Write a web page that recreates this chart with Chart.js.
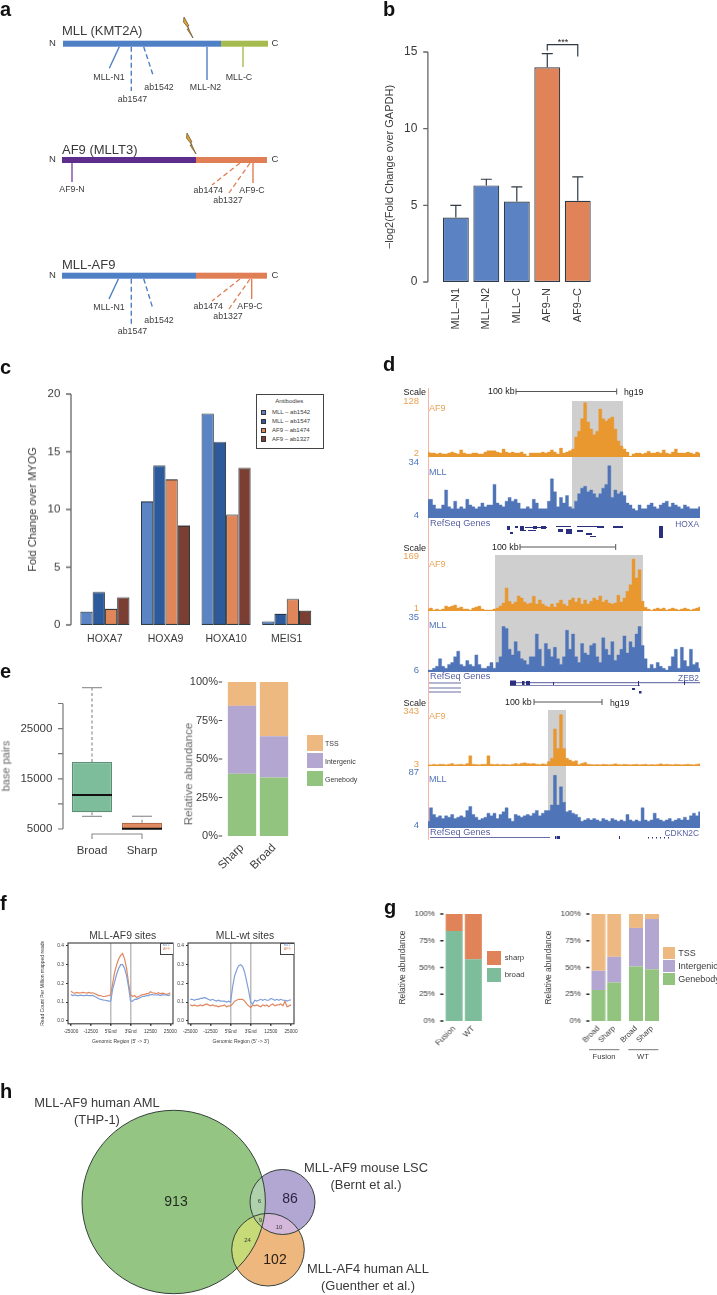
<!DOCTYPE html>
<html><head><meta charset="utf-8">
<script src="https://cdn.jsdelivr.net/npm/chart.js@4"></script>
<style>
html,body{margin:0;padding:0;background:#fff;width:717px;height:1295px;overflow:hidden}
#root{position:relative;width:717px;height:1295px;overflow:hidden;filter:blur(.35px);font-family:'Liberation Sans',Arial,sans-serif;color:#333}
#root canvas{position:absolute}
.t{position:absolute;white-space:nowrap;line-height:1}
svg{position:absolute;left:0;top:0}
</style></head><body><div id="root"></div>
<script>
// ---------- panel b
const bLabels=['MLL–N1','MLL–N2','MLL–C','AF9–N','AF9–C'];
const bValues=[4.2,6.3,5.25,14,5.3];
const bErrTop=[5.0,6.7,6.2,14.9,6.85];
const bTicks=[0,5,10,15];
// ---------- panel c
const cLabels=['HOXA7','HOXA9','HOXA10','MEIS1'];
const cNames=['MLL – ab1542','MLL – ab1547','AF9 – ab1474','AF9 – ab1327'];
const cMll1542=[1.15,10.7,18.3,0.3];
const cMll1547=[2.85,13.8,15.85,0.95];
const cAf1474=[1.4,12.6,9.55,2.25];
const cAf1327=[2.4,8.6,13.6,1.25];
const cTicks=[0,5,10,15,20];
// ---------- panel d (signal tracks, in track units)
const hoxaAF9=[13,11,11,9,11,9,9,11,13,11,9,18,11,9,9,11,11,9,9,13,16,16,16,13,11,20,13,11,13,11,11,13,9,4,11,11,11,11,13,11,13,18,13,9,22,11,13,16,20,47,60,88,124,81,65,52,60,110,88,83,88,92,65,38,27,20,13,4,9,11,11,9,11,15,11,11,13,11,18,11,9,13,20,11,11,11,13,11,9,13,11];
const hoxaMLL=[14,14,11,9,9,11,19,10,9,13,9,10,9,14,11,10,9,10,12,10,11,11,22,12,11,10,13,15,13,14,12,9,9,10,9,14,12,9,9,9,13,25,18,10,15,12,16,10,9,13,17,20,21,18,19,17,15,17,20,22,32,15,19,17,18,16,12,11,9,8,11,9,9,11,12,10,9,11,12,13,10,12,11,10,9,11,10,9,9,9,10];
const zebAF9=[7,10,4,7,4,7,16,13,16,19,10,13,7,7,4,10,13,16,7,4,4,4,7,10,16,25,70,30,22,28,46,40,28,22,25,45,22,34,22,16,13,22,13,25,34,22,16,34,40,28,40,22,34,22,30,40,34,46,28,34,25,22,25,48,28,40,60,80,157,100,125,30,12,7,3,7,10,7,10,4,7,10,7,4,7,10,7,4,7,10,13];
const zebMLL=[7,7,8,9,13,9,8,10,11,14,17,10,9,12,10,9,15,10,8,8,9,11,8,11,14,30,29,18,15,22,17,13,12,10,14,14,26,18,9,21,18,14,19,13,10,14,28,18,26,14,11,21,16,15,20,21,14,11,24,18,15,22,12,15,18,25,16,22,19,26,30,20,13,8,10,8,11,9,8,7,9,14,18,8,19,12,9,18,10,11,8];
const cdkAF9=[10,10,14,10,14,14,10,14,18,10,12,14,10,18,65,14,12,10,14,14,65,14,12,14,10,14,12,10,14,18,14,20,22,18,16,18,14,12,16,14,30,50,228,110,315,110,50,40,30,35,12,20,25,14,12,10,12,10,14,12,10,12,16,12,10,14,12,10,12,14,10,12,14,10,12,10,12,16,12,14,12,10,14,12,10,12,14,12,10,14,16];
const cdkMLL=[14,34,24,20,22,18,22,20,24,18,20,22,20,30,36,24,20,16,18,20,26,22,26,18,24,28,34,18,14,24,22,20,22,24,22,26,30,22,26,30,30,38,82,38,65,42,28,30,26,24,20,14,16,18,16,18,16,14,18,16,14,18,16,14,16,14,24,16,14,16,14,34,16,14,16,26,18,16,14,16,18,14,16,18,16,20,16,22,26,22,28];
// ---------- panel e
const eBoxLabels=['Broad','Sharp'];
const eQ1=[8330,4950];
const eMedian=[11770,5050];
const eQ3=[18350,6250];
const eWhiskLow=[7530,4950];
const eWhiskHigh=[33150,7530];
const eBoxTicks=[5000,10000,15000,20000,25000,30000];
const eBoxShown=[5000,15000,25000];
const eStackLabels=['Sharp','Broad'];
const eGenebody=[40.5,38];
const eIntergenic=[44,26.7];
const eTSS=[15.5,35.3];
const pctTicks=[0,25,50,75,100];
// ---------- panel f
const fTickPos=[0,10,20,30,40,50];
const fTickText=['-25000','-12500',"5'End","3'End",'12500','25000'];
const fYTicks=[0,0.1,0.2,0.3,0.4];
const fusionMLL=[.14,.135,.138,.135,.135,.137,.135,.135,.137,.135,.135,.136,.13,.125,.118,.115,.112,.11,.108,.105,.105,.17,.21,.25,.28,.30,.30,.28,.24,.18,.105,.105,.115,.115,.12,.125,.13,.13,.135,.135,.14,.14,.138,.138,.14,.135,.14,.138,.138,.135,.14];
const fusionAF9=[.158,.15,.148,.152,.148,.15,.152,.15,.148,.152,.148,.15,.145,.14,.135,.135,.13,.13,.133,.135,.14,.2,.26,.3,.33,.35,.36,.33,.28,.2,.14,.13,.135,.125,.13,.135,.14,.14,.145,.145,.155,.15,.148,.145,.15,.145,.148,.145,.14,.145,.15];
const wtMLL=[.115,.115,.11,.115,.115,.12,.12,.125,.12,.115,.11,.115,.11,.105,.11,.105,.105,.105,.1,.105,.1,.18,.24,.27,.295,.3,.29,.26,.21,.16,.1,.09,.11,.105,.11,.115,.11,.115,.11,.11,.12,.115,.11,.115,.11,.115,.11,.11,.105,.11,.112];
const wtAF9=[.085,.08,.085,.08,.08,.085,.08,.085,.09,.085,.08,.085,.08,.08,.075,.08,.08,.085,.075,.08,.08,.09,.105,.11,.115,.115,.115,.105,.09,.08,.07,.085,.08,.085,.08,.075,.085,.08,.085,.075,.085,.09,.08,.085,.085,.09,.08,.105,.075,.08,.085];
// ---------- panel g
const gLabels=['Fusion','WT'];
const gBroad=[84,57.6];
const gSharp=[16,42.4];
const gSubLabels=['Broad','Sharp'];
const gFusionGene=[29,36];
const gFusionInter=[18,24];
const gFusionTSS=[53,40];
const gWtGene=[51,48.3];
const gWtInter=[36,47];
const gWtTSS=[13,4.7];
// ---------- panel h
const vennNames=['MLL-AF9 human AML','MLL-AF9 mouse LSC','MLL-AF4 human ALL'];
const vennX=[103.7,212.5,198];
const vennY=[102,102,149.7];
const vennR=[91.7,32.5,36.3];

const BLUE='#5b82c3',ORANGE='#e08358',GREEN='#93c47f',PURPLE='#b3a7d1',TAN='#eeb981',TEAL='#7dbd9c';
const EDGE='#2f3a44',INK='#3a3a3a';
const root=document.getElementById('root');
Chart.defaults.font.family="'Liberation Sans',Arial,sans-serif";
Chart.defaults.color=INK;
Chart.defaults.animation=false;
Chart.defaults.plugins.legend.display=false;
Chart.defaults.plugins.tooltip.enabled=false;

function t(text,x,y,size,o={}){
  const d=document.createElement('div');d.className='t';d.textContent=text;
  const a=o.a||'c';const tx=a==='c'?'-50%':a==='r'?'-100%':'0';
  d.style.cssText=`left:${x}px;top:${y}px;font-size:${size}px;color:${o.c||INK};font-weight:${o.w||'normal'};transform:translate(${tx},-50%) ${o.rot?`rotate(${o.rot}deg)`:''};`;
  root.appendChild(d);return d;
}
function rect(x,y,w,h,c,extra=''){
  const d=document.createElement('div');
  d.style.cssText=`position:absolute;left:${x}px;top:${y}px;width:${w}px;height:${h}px;background:${c};${extra}`;
  root.appendChild(d);return d;
}
function mk(box,cfg){
  const {l,t:tp,r,b,ml=4,mr=4,mt=10,mb=4}=box;
  const c=document.createElement('canvas');
  const W=r-l+ml+mr,H=b-tp+mt+mb;
  c.style.left=(l-ml)+'px';c.style.top=(tp-mt)+'px';
  c.style.width=W+'px';c.style.height=H+'px';c.width=W;c.height=H;
  root.appendChild(c);
  cfg.options=cfg.options||{};
  cfg.options.responsive=false;
  const pad={left:0,top:mt,right:mr,bottom:0};
  const sc=cfg.options.scales||{};
  const zero=s=>{s.paddingTop=0;s.paddingBottom=0;s.paddingLeft=0;s.paddingRight=0;};
  if(sc.x){ if(sc.x.display===false) pad.bottom=mb; else sc.x.afterFit=s=>{s.height=mb;zero(s);}; }
  if(sc.y){ if(sc.y.display===false) pad.left=ml; else sc.y.afterFit=s=>{s.width=ml;zero(s);}; }
  cfg.options.layout={autoPadding:false,padding:pad};
  return new Chart(c,cfg);
}
const fixedTicks=v=>s=>{s.ticks=v.map(value=>({value}))};
function rAxis(values,gap,len,line,color='#666',lw=1.3){
  return {id:'rAxis',afterDraw(c){
    const y=c.scales.y,x=c.chartArea.left-gap,g=c.ctx;
    g.save();g.strokeStyle=color;g.lineWidth=lw;g.beginPath();
    if(line){g.moveTo(x,y.getPixelForValue(values[0]));g.lineTo(x,y.getPixelForValue(values[values.length-1]));}
    values.forEach(v=>{const p=y.getPixelForValue(v);g.moveTo(x,p);g.lineTo(x-len,p);});
    g.stroke();g.restore();
  }};
}
const noGrid={display:false,drawTicks:false};
const noBorder={display:false};

// ================= panel letters
[['a',0,9],['b',383,9],['c',0,367],['d',383,364],['e',0,671],['f',0,903],['g',384,907],['h',0,1091]].forEach(p=>t(p[0],p[1],p[2],20,{a:'l',w:'bold',c:'#111'}));

// ================= panel a (schematic)
const NS='http://www.w3.org/2000/svg';
const svg=document.createElementNS(NS,'svg');svg.setAttribute('width',717);svg.setAttribute('height',1295);root.appendChild(svg);
function ln(x1,y1,x2,y2,c,w=1.4,dash){const e=document.createElementNS(NS,'line');
  [['x1',x1],['y1',y1],['x2',x2],['y2',y2],['stroke',c],['stroke-width',w]].forEach(a=>e.setAttribute(a[0],a[1]));
  if(dash)e.setAttribute('stroke-dasharray',dash);svg.appendChild(e);}
function box(x,y,w,h,c){const e=document.createElementNS(NS,'rect');
  [['x',x],['y',y],['width',w],['height',h],['fill',c]].forEach(a=>e.setAttribute(a[0],a[1]));svg.appendChild(e);}
function bolt(x,y){const e=document.createElementNS(NS,'polygon');
  e.setAttribute('points',[[x,y],[x+5,y+9],[x+3.5,y+9],[x+9,y+21],[x+3,y+12],[x+5,y+12],[x-0.5,y+5]].map(p=>p.join(',')).join(' '));
  e.setAttribute('fill','#e2a62e');e.setAttribute('stroke','#6d5a3a');e.setAttribute('stroke-width','.8');svg.appendChild(e);}
const PUR='#5e2d8c',APUR='#7d4aa3',OLV='#a5bb4f',ABL='#4f7fc4',AOR='#e07f55';
box(63,40.7,158,6,ABL);box(221,40.7,47,6,OLV);
box(62,157,134,6,PUR);box(196,157,71,6,AOR);
box(62,272.7,134,6,ABL);box(196,272.7,71,6,AOR);
bolt(184,17);bolt(187,133);
ln(119.3,46.7,109.3,68.3,ABL);ln(131.3,46.7,131.3,91,ABL,1.4,'5 3');ln(143.7,46.7,153.3,76,ABL,1.4,'5 3');ln(207,46.7,207,80,ABL);ln(243,46.7,243,67,OLV);
ln(72,163,72,182,APUR);ln(240,163,212,185,AOR,1.3,'5 3');ln(250,163,229,193,AOR,1.3,'5 3');ln(253,163,253,183,AOR);
ln(118.5,278.7,109,299,ABL);ln(131.3,278.7,131.3,325,ABL,1.4,'5 3');ln(143.7,278.7,153,309,ABL,1.4,'5 3');ln(240,279,212,301,AOR,1.3,'5 3');ln(250,279,229,309,AOR,1.3,'5 3');ln(251.7,279,251.7,299,AOR);
t('MLL (KMT2A)',62,30,13,{a:'l'});t('AF9 (MLLT3)',62,149,13,{a:'l'});t('MLL-AF9',62,264,13,{a:'l'});
[[43],[159],[275]].forEach(r=>{t('N',52.5,r[0],9.5);t('C',275,r[0],9.5);});
[['MLL-N1',109,76.7],['ab1547',132.5,99],['ab1542',159,87],['MLL-N2',205.5,87],['MLL-C',239,76.7],
 ['AF9-N',72,189],['ab1474',208.3,190],['AF9-C',252,189.5],['ab1327',228,199.5],
 ['MLL-N1',109,307],['ab1547',132.5,331],['ab1542',159,320],['ab1474',208.3,306],['ab1327',228,315.5],['AF9-C',250,306]].forEach(a=>t(a[0],a[1],a[2],8.8));

// ================= panel b
mk({l:441,r:593.5,t:51.7,b:282.3,ml:57.6,mt:14,mb:60},{type:'bar',
  data:{labels:bLabels,datasets:[{data:bValues,backgroundColor:[BLUE,BLUE,BLUE,ORANGE,ORANGE],borderColor:EDGE,borderWidth:1.2,borderSkipped:false,categoryPercentage:1,barPercentage:.85}]},
  options:{scales:{
    x:{grid:noGrid,border:noBorder,ticks:{font:{size:11},minRotation:90,maxRotation:90,padding:6,autoSkip:false}},
    y:{min:0,max:15,afterBuildTicks:fixedTicks(bTicks),grid:noGrid,border:noBorder,ticks:{font:{size:12},padding:23.3},title:{display:true,text:'−log2(Fold Change over GAPDH)',font:{size:11},padding:0}}
  }},
  plugins:[rAxis(bTicks,12.7,4.7,true),{id:'err',afterDraw(c){
    const g=c.ctx,X=c.scales.x,Y=c.scales.y;g.save();g.strokeStyle=EDGE;g.lineWidth=1.2;g.beginPath();
    bErrTop.forEach((v,i)=>{const x=X.getPixelForValue(i),y=Y.getPixelForValue(v);
      g.moveTo(x,Y.getPixelForValue(bValues[i]));g.lineTo(x,y);g.moveTo(x-5.5,y);g.lineTo(x+5.5,y);});
    const a=X.getPixelForValue(3),b=X.getPixelForValue(4);
    g.moveTo(a,Y.getPixelForValue(15.1));g.lineTo(a,Y.getPixelForValue(15.48));g.lineTo(b,Y.getPixelForValue(15.48));g.lineTo(b,Y.getPixelForValue(14.7));
    g.stroke();g.restore();
  }}]});
t('***',563,42,9,{c:'#222'});

// ================= panel c
const cColors=['#5b84c4','#2d5a9a','#e08658','#7a3f32'];
mk({l:74.3,r:317.3,t:394.3,b:625,ml:48.6,mb:30},{type:'bar',
  data:{labels:cLabels,datasets:[cMll1542,cMll1547,cAf1474,cAf1327].map((d,i)=>({label:cNames[i],data:d,backgroundColor:cColors[i],borderColor:'#22303a',borderWidth:1,borderSkipped:false,categoryPercentage:.81,barPercentage:1}))},
  options:{scales:{
    x:{grid:noGrid,border:noBorder,ticks:{font:{size:10.5},padding:8,autoSkip:false,maxRotation:0}},
    y:{min:0,max:20,afterBuildTicks:fixedTicks(cTicks),grid:noGrid,border:noBorder,ticks:{font:{size:11.5},padding:14.3},title:{display:true,text:'Fold Change over MYOG',font:{size:11},padding:0}}
  }},plugins:[rAxis(cTicks,3.6,5,true)]});
rect(255.7,394,66,52.5,'#fff','border:1.3px solid #444;');
t('Antibodies',289.3,400.7,6);
[412.3,421.3,430.3,439].forEach((y,i)=>{rect(260.7,y-2.6,5.2,5.2,cColors[i],'box-sizing:border-box;border:.5px solid #333;');t(cNames[i],272,y,6,{a:'l'});});

// ================= panel d
const PINK='#f5b5ac',AFC='#e9982f',MLC='#4f74b8',NAVY='#2a2f80';
rect(427.6,388,1,452,PINK);
const grayC='#cfcfcf';
rect(571.7,400.7,51.6,117.6,grayC);rect(494.7,555,148.6,116.7,grayC);rect(547.7,710,18,117.7,grayC);
function track(vals,min,max,col,top,bottom){
  mk({l:428,r:700,t:top,b:bottom,ml:0,mr:0,mt:0,mb:0},{type:'line',
    data:{labels:vals.map((_,i)=>i),datasets:[{data:vals,borderColor:col,backgroundColor:col,borderWidth:.4,pointRadius:0,fill:'start',stepped:'middle',clip:false}]},
    options:{scales:{x:{display:false},y:{display:false,min,max}}}});
}
track(hoxaAF9,2,128,AFC,400.7,457.3);track(hoxaMLL,4,34,MLC,461.7,518.3);
track(zebAF9,1,169,AFC,555,611);track(zebMLL,6,35,MLC,616.7,671.7);
track(cdkAF9,3,343,AFC,710,766);track(cdkMLL,4,87,MLC,771.7,827.7);
function scaleBar(x1,x2,y){ln(x1,y,x2,y,'#555',1);ln(x1,y-3,x1,y+3,'#555',1);ln(x2,y-3,x2,y+3,'#555',1);}
[[392,401,'128',408,'2',453,'34',462,'MLL',472,'4',515,'RefSeq Genes',524,'HOXA',524],
 [548,556,'169',564,'1',608,'35',617,'MLL',625,'6',670,'RefSeq Genes',677,'ZEB2',678],
 [703,711,'343',716,'3',764,'87',772,'MLL',779,'4',825,'RefSeq Genes',833,'CDKN2C',833]].forEach(r=>{
  t('Scale',426,r[0],9,{a:'r',c:'#222'});
  t(r[2],419,r[1],9.5,{a:'r',c:'#e8a253'});
  t('AF9',429,r[3],9,{a:'l',c:'#e8a253'});
  t(r[4],419,r[5],9.5,{a:'r',c:'#e8a253'});
  t(r[6],419,r[7],9.5,{a:'r',c:MLC});
  t('MLL',429,r[9],9,{a:'l',c:MLC});
  t(r[10],419,r[11],9.5,{a:'r',c:MLC});
  t(r[12],430,r[13],9.2,{a:'l',c:'#555fa0'});
  t(r[14],699,r[15],8.4,{a:'r',c:'#555fa0'});
});
t('100 kb',488,391,8.9,{a:'l',c:'#222'});scaleBar(516,616.7,391.5);t('hg19',624,392,8.7,{a:'l',c:'#222'});
t('100 kb',492,547,8.9,{a:'l',c:'#222'});scaleBar(520,615.7,547);
t('100 kb',505,702,8.9,{a:'l',c:'#222'});scaleBar(534,602,702);t('hg19',610,703,8.7,{a:'l',c:'#222'});
// gene models
[[507,526,3,4],[515,526,3,2],[520,526,4,4],[525,527,22,1],[533,526,4,3],[541,526,5,3],[556,526,15,1],[558,529,5,3],[566,529,6,5],[577,526,27,1],[597,526,7,2],[613,526,10,2],[659,526,4,12],[510,532,3,2],[520,530,6,1],[528,530,8,1],[577,530,6,2],[586,533,6,2],[590,536,6,1]].forEach(a=>box(a[0],a[1],a[2],a[3],NAVY));
[683,688,692].forEach(y=>ln(429,y,461,y,NAVY,.7));
ln(510,682.7,700,682.7,NAVY,.8);ln(510,685.5,640,685.5,NAVY,.6);
[[510,680.5,6,5],[522,681,2.5,4],[526,681,4,4],[553,682,1,3],[638,681,1,5],[632,688,3,2],[639,691,2.5,2.5],[684,681,1,4]].forEach(a=>box(a[0],a[1],a[2],a[3],NAVY));
ln(430,837.5,550,837.5,NAVY,.7);
[[555,836,1.5,3],[557,836,3,3],[619,836,1,3],[648,837,1,1.5],[652,837,1,1.5],[656,837,1,1.5],[660,837,1,1.5],[664,837,1,1.5],[668,837,1,1.5]].forEach(a=>box(a[0],a[1],a[2],a[3],NAVY));

// ================= panel e, box plot
mk({l:67.3,r:167.3,t:680,b:834,ml:60,mb:26},{type:'bar',
  data:{labels:eBoxLabels,datasets:[{data:eQ1.map((q,i)=>[q,eQ3[i]]),backgroundColor:[TEAL,'#e08a60'],borderColor:['#5d8f75','#b06a48'],borderWidth:1.2,borderSkipped:false,categoryPercentage:1,barPercentage:.8}]},
  options:{scales:{
    x:{grid:noGrid,border:noBorder,ticks:{font:{size:11.5},padding:10,autoSkip:false,maxRotation:0}},
    y:{min:4004,max:34680,afterBuildTicks:fixedTicks(eBoxTicks),grid:noGrid,border:noBorder,
       ticks:{font:{size:11.5},padding:14.6,callback:v=>eBoxShown.includes(v)?String(v):''}}
  }},
  plugins:[rAxis(eBoxTicks,4,5,true,'#777',1.2),{id:'whisk',afterDraw(c){
    const g=c.ctx,X=c.scales.x,Y=c.scales.y;g.save();
    eBoxLabels.forEach((_,i)=>{const x=X.getPixelForValue(i),p=v=>Y.getPixelForValue(v);
      g.strokeStyle='#999';g.lineWidth=1.3;g.setLineDash([3,2.5]);g.beginPath();g.moveTo(x,p(eQ3[i]));g.lineTo(x,p(eWhiskHigh[i]));g.moveTo(x,p(eQ1[i]));g.lineTo(x,p(eWhiskLow[i]));g.stroke();
      g.setLineDash([]);g.beginPath();g.moveTo(x-10,p(eWhiskHigh[i]));g.lineTo(x+10,p(eWhiskHigh[i]));
      if(i===0){g.moveTo(x-10,p(eWhiskLow[i]));g.lineTo(x+10,p(eWhiskLow[i]));}g.stroke();
      g.strokeStyle='#111';g.lineWidth=2;g.beginPath();g.moveTo(x-20,p(eMedian[i]));g.lineTo(x+20,p(eMedian[i]));g.stroke();});
    const a=X.getPixelForValue(0),b=X.getPixelForValue(1),y=c.chartArea.bottom;
    g.strokeStyle='#888';g.lineWidth=1.1;g.beginPath();g.moveTo(a,y+5);g.lineTo(a,y);g.lineTo(b,y);g.lineTo(b,y+5);g.stroke();g.restore();
  }}]});
t('base pairs',5.5,766,11,{rot:-90,c:'#666'});

// ================= panel e, stacked
function stack(labels,rows,colors,names){return {labels,datasets:rows.map((d,i)=>({label:names[i],data:d,backgroundColor:colors[i]}))};}
const stackNames=['Genebody','Intergenic','TSS'];const stackColors=[GREEN,PURPLE,TAN];
function stackOpts(bar){return {datasets:{bar:{categoryPercentage:1,barPercentage:bar}}};}
let o=stackOpts(.885);
o.scales={
  x:{stacked:true,grid:noGrid,border:noBorder,ticks:{font:{size:11.5},minRotation:45,maxRotation:45,padding:5,autoSkip:false}},
  y:{stacked:true,min:0,max:100,afterBuildTicks:fixedTicks(pctTicks),grid:noGrid,border:noBorder,ticks:{font:{size:11},padding:8,callback:v=>v+'%'}}};
mk({l:225.8,r:290.4,t:681.7,b:835.7,ml:45,mb:45},{type:'bar',data:stack(eStackLabels,[eGenebody,eIntergenic,eTSS],stackColors,stackNames),options:o,plugins:[rAxis(pctTicks,3.8,3.5,false,'#444',1)]});
t('Relative abundance',188,774,11.6,{rot:-90,c:'#666'});
[['TSS',735,TAN],['Intergenic',752.7,PURPLE],['Genebody',770.7,GREEN]].forEach(a=>{rect(306.7,a[1],16.5,15.7,a[2]);t(a[0],325,a[1]+8,7,{a:'l'});});

// ================= panel f
function prof(lft,rgt,xmin,xmax,ml,blue,orange,withTitle){
  mk({l:lft,r:rgt,t:942.7,b:1024.3,ml,mb:21.2,mt:5,mr:9},{type:'line',
    data:{labels:blue.map((_,i)=>i),datasets:[
      {data:blue.map((y,x)=>({x,y})),borderColor:'#7f9fd8',borderWidth:1.2,pointRadius:0},
      {data:orange.map((y,x)=>({x,y})),borderColor:'#e0875f',borderWidth:1.2,pointRadius:0}]},
    options:{scales:{
      x:{type:'linear',min:xmin,max:xmax,afterBuildTicks:fixedTicks(fTickPos),
         grid:{drawTicks:true,tickLength:2,tickColor:'#333',color:c=>(c.tick&&(c.tick.value===20||c.tick.value===30))?'#bdbdbd':'rgba(0,0,0,0)',lineWidth:1.5},
         border:noBorder,ticks:{font:{size:4.7},padding:3,maxRotation:0,autoSkip:false,callback:v=>fTickText[fTickPos.indexOf(v)]},
         title:{display:true,text:"Genomic Region (5' -> 3')",font:{size:5},padding:0}},
      y:{min:-.016,max:.416,afterBuildTicks:fixedTicks(fYTicks),
         grid:{display:true,drawOnChartArea:false,drawTicks:true,tickLength:2,tickColor:'#333'},border:noBorder,
         ticks:{font:{size:4.8},padding:2,callback:v=>v.toFixed(1)},
         title:{display:withTitle,text:'Read Count Per Million mapped reads',font:{size:5},padding:0}}
    }},
    plugins:[{id:'frame',afterDraw(c){const a=c.chartArea,g=c.ctx;g.save();g.strokeStyle='#3a3a3a';g.lineWidth=1.1;g.strokeRect(a.left,a.top,a.right-a.left,a.bottom-a.top);g.restore();}}]});
}
prof(67.7,172.7,-1.5,51.36,28,fusionMLL,fusionAF9,true);
prof(187.7,294,-1.14,51.5,14,wtMLL,wtAF9,false);
t('MLL-AF9 sites',122.7,936,10.4);t('MLL-wt sites',245,936,10.4);
[[160,172.7],[280.3,294]].forEach(a=>{rect(a[0],942.7,a[1]-a[0]-1.2,10.6,'#fff','border-left:.8px solid #444;border-bottom:.8px solid #444;border-top:.8px solid #444;');
  t('MLL',(a[0]+a[1])/2,945.7,3.6,{c:'#6f8fd0'});t('AF9',(a[0]+a[1])/2,950,3.6,{c:'#e0875f'});});

// ================= panel g
o=stackOpts(.88);
o.scales={
  x:{stacked:true,grid:noGrid,border:noBorder,ticks:{font:{size:8},minRotation:45,maxRotation:45,padding:3,autoSkip:false}},
  y:{stacked:true,min:0,max:100,afterBuildTicks:fixedTicks(pctTicks),grid:noGrid,border:noBorder,ticks:{font:{size:7.8},padding:9.5,callback:v=>v+'%'},title:{display:true,text:'Relative abundance',font:{size:8.4},padding:0}}};
mk({l:444.15,r:482.85,t:913.7,b:1021.3,ml:46,mb:40},{type:'bar',data:stack(gLabels,[gBroad,gSharp],[TEAL,ORANGE],['broad','sharp']),options:o,plugins:[rAxis(pctTicks,1.2,3,false,'#222',1.6)]});
[['sharp',951.3,ORANGE],['broad',968,TEAL]].forEach(a=>{rect(487.3,a[1],14,13.8,a[2]);t(a[0],504.7,a[1]+7,7.8,{a:'l'});});
o=stackOpts(.89);
o.scales={
  x:{stacked:true,grid:noGrid,border:noBorder,ticks:{font:{size:7.6},minRotation:45,maxRotation:45,padding:3,autoSkip:false}},
  y:{stacked:true,min:0,max:100,afterBuildTicks:fixedTicks(pctTicks),grid:noGrid,border:noBorder,ticks:{font:{size:7.8},padding:9.5,callback:v=>v+'%'},title:{display:true,text:'Relative abundance',font:{size:8.4},padding:0}}};
mk({l:590.15,r:621.55,t:913.7,b:1021.3,ml:46,mb:40},{type:'bar',data:stack(gSubLabels,[gFusionGene,gFusionInter,gFusionTSS],stackColors,stackNames),options:o,plugins:[rAxis(pctTicks,1.2,3,false,'#222',1.6)]});
o=stackOpts(.875);
o.scales={
  x:{stacked:true,grid:noGrid,border:noBorder,ticks:{font:{size:7.6},minRotation:45,maxRotation:45,padding:3,autoSkip:false}},
  y:{stacked:true,display:false,min:0,max:100}};
mk({l:628,r:660,t:913.7,b:1021.3,ml:14,mb:40},{type:'bar',data:stack(gSubLabels,[gWtGene,gWtInter,gWtTSS],stackColors,stackNames),options:o});
ln(589,1049.7,619.3,1049.7,'#666',.9);ln(628.3,1049.7,658.3,1049.7,'#666',.9);
t('Fusion',604,1056.5,7.6);t('WT',643,1056.5,7.6);
[['TSS',946.7,TAN],['Intergenic',960,PURPLE],['Genebody',973.3,GREEN]].forEach(a=>{rect(662.7,a[1],12,12,a[2]);t(a[0],678.3,a[1]+6,9,{a:'l'});});

// ================= panel h
const vGreen='#95c583',vPurple='#b2a6d2',vOrange='#eeb77d';
mk({l:70,r:330,t:1100,b:1295,ml:0,mr:0,mt:0,mb:0},{type:'bubble',
  data:{datasets:[{data:vennX.map((x,i)=>({x,y:vennY[i],r:vennR[i]})),backgroundColor:[vGreen,vPurple,vOrange],borderWidth:0,clip:false}]},
  options:{scales:{x:{display:false,min:0,max:260},y:{display:false,min:0,max:195,reverse:true}}},
  plugins:[{id:'lens',afterDatasetsDraw(c){
    const g=c.ctx,e=c.getDatasetMeta(0).data.map((p,i)=>({x:p.x,y:p.y,r:vennR[i]}));
    const arc=k=>{g.beginPath();g.arc(e[k].x,e[k].y,e[k].r,0,Math.PI*2);};
    const part=(list,col)=>{g.save();list.slice(0,-1).forEach(k=>{arc(k);g.clip();});arc(list[list.length-1]);g.fillStyle=col;g.fill();g.restore();};
    part([0,1],'#aed0aa');part([0,2],'#c7da78');part([1,2],'#d3b8dc');part([0,1,2],'#b4ce8e');
    g.save();g.strokeStyle='#33403a';g.lineWidth=1;[0,1,2].forEach(k=>{arc(k);g.stroke();});g.restore();
  }}]});
t('913',176,1201,14,{c:'#1f2a1f'});t('86',290,1198,14,{c:'#2a2540'});t('102',275,1259,14,{c:'#2a2015'});
t('6',259.5,1201,6);t('9',260.5,1220,6);t('10',279,1226.5,6);t('24',247.5,1239.5,6);
t(vennNames[0],97,1103,12.9);t('(THP-1)',97,1120,12.9);
t(vennNames[1],366,1168,12.9);t('(Bernt et al.)',366,1185,12.9);
t(vennNames[2],368,1269,12.9);t('(Guenther et al.)',368,1286,12.9);
</script></body></html>
